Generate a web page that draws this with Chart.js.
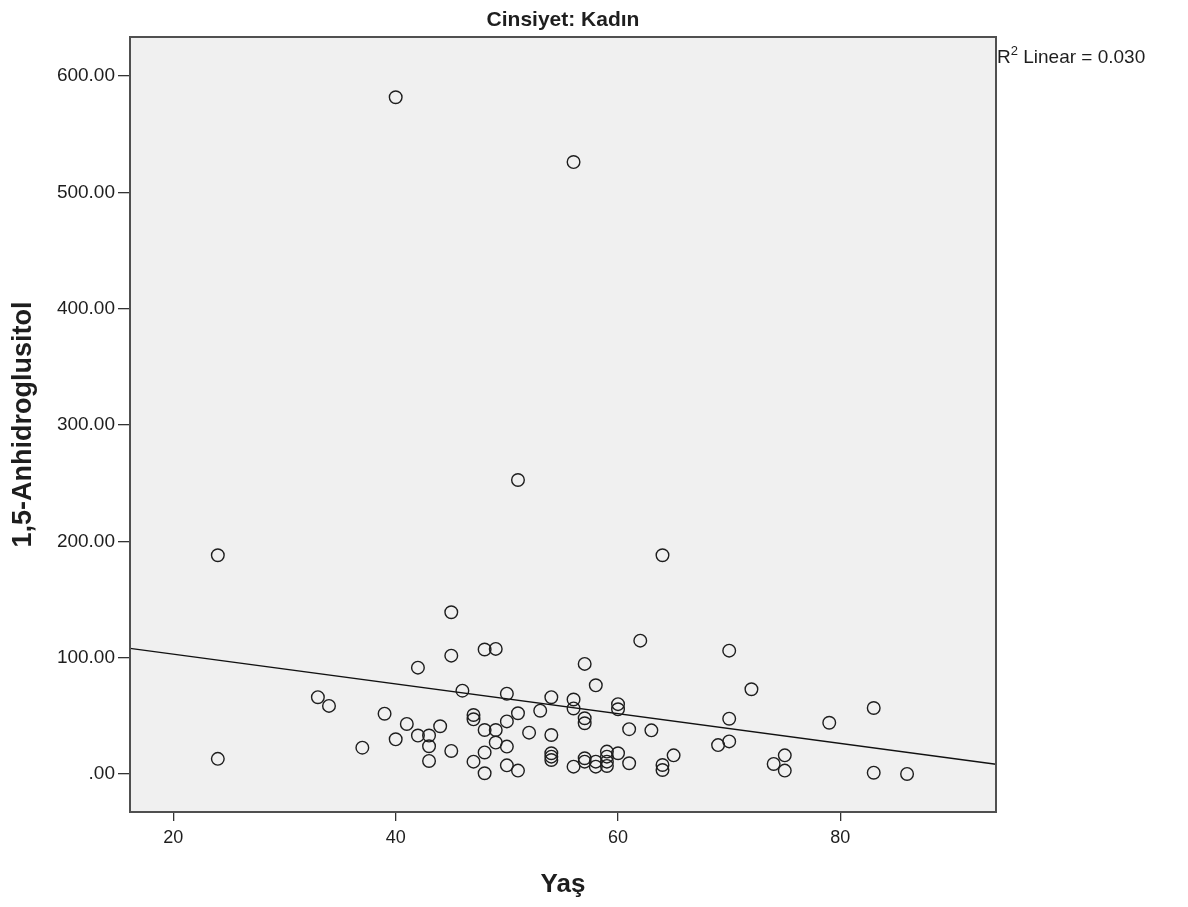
<!DOCTYPE html>
<html><head><meta charset="utf-8">
<script src="https://cdn.jsdelivr.net/npm/chart.js@4/dist/chart.umd.min.js"></script>
<style>html,body{margin:0;padding:0;background:#fff;}canvas{display:block;}</style>
</head><body>
<canvas id="c" width="1188" height="907"></canvas>
<script>
const chartTitle = 'Cinsiyet: Kadın';
const xAxisTitle = 'Yaş';
const yAxisTitle = '1,5-Anhidroglusitol';
const fitText = ['R', '2', ' Linear = 0.030'];

const ages = [40,56,51,24,64,45,62,42,45,48,49,70,57,58,72,46,33,34,50,54,
  56,60,60,39,47,47,51,53,56,57,57,70,79,83,41,44,50,42,43,48,
  49,52,54,61,63,40,49,37,43,45,48,50,69,70,24,43,47,54,54,54,
  57,57,58,58,59,59,59,59,60,61,56,50,51,48,64,64,65,74,75,75,83,86];
const values = [581.7,526,252.7,188,188,139,114.6,91.4,101.7,107,107.5,106,94.6,76.2,72.8,71.6,66,58.5,69,66,
  64,60,55.6,51.8,50.7,47,52.2,54.4,56.3,47.9,43.6,47.5,44,56.7,43,41,45.2,33,33,37.8,
  37.8,35.5,33.5,38.5,37.5,29.8,27,22.6,23.8,19.8,18.5,23.5,24.8,28,13,11.2,10.6,17.8,14.9,12,
  13.5,10.6,10.6,6.3,19.2,14.9,10.6,6.9,17.8,9.2,6.3,7.4,2.9,0.6,7.7,3.4,16,8.6,16,2.9,1.1,0];

const fitX = [16.1, 94.0];
const fitY = [108.0, 8.3];

const xRange = [16.1, 94.0];
const yRange = [-32.7, 633.5];
const xTickValues = [20, 40, 60, 80];
const xTickLabels = ['20', '40', '60', '80'];
const yTickValues = [0, 100, 200, 300, 400, 500, 600];
const yTickLabels = ['.00', '100.00', '200.00', '300.00', '400.00', '500.00', '600.00'];

const FONT = "'Liberation Sans', Arial, sans-serif";
const INK = '#1e1e1e';

const framePlugin = {
  id: 'frame',
  beforeDraw(chart) {
    const {ctx, chartArea: a} = chart;
    ctx.save();
    ctx.fillStyle = '#f0f0f0';
    ctx.fillRect(a.left, a.top, a.right - a.left, a.bottom - a.top);
    ctx.restore();
  },
  afterDraw(chart) {
    const {ctx, chartArea: a} = chart;
    ctx.save();
    ctx.strokeStyle = '#505050';
    ctx.lineWidth = 2;
    ctx.strokeRect(a.left, a.top, a.right - a.left, a.bottom - a.top);
    ctx.fillStyle = INK;
    ctx.font = "bold 21px " + FONT;
    ctx.textAlign = 'center';
    ctx.textBaseline = 'alphabetic';
    ctx.fillText(chartTitle, (a.left + a.right) / 2, a.top - 11);
    ctx.textAlign = 'left';
    let x = a.right + 1;
    const y = a.top + 26;
    ctx.font = "19px " + FONT;
    ctx.fillText(fitText[0], x, y);
    x += ctx.measureText(fitText[0]).width;
    ctx.font = "13px " + FONT;
    ctx.fillText(fitText[1], x, y - 8);
    x += ctx.measureText(fitText[1]).width;
    ctx.font = "19px " + FONT;
    ctx.fillText(fitText[2], x, y);
    ctx.restore();
  }
};

new Chart(document.getElementById('c'), {
  type: 'scatter',
  data: {
    datasets: [
      {
        label: 'points',
        data: ages.map((a, i) => ({x: a, y: values[i]})),
        pointStyle: 'circle',
        pointRadius: 6.3,
        pointHoverRadius: 6.3,
        pointBorderWidth: 1.4,
        borderColor: INK,
        pointBorderColor: INK,
        backgroundColor: 'rgba(0,0,0,0)',
        pointBackgroundColor: 'rgba(0,0,0,0)',
        showLine: false
      },
      {
        label: 'fit',
        data: fitX.map((v, i) => ({x: v, y: fitY[i]})),
        showLine: true,
        pointRadius: 0,
        borderColor: '#111',
        borderWidth: 1.4,
        fill: false
      }
    ]
  },
  options: {
    responsive: false,
    animation: false,
    devicePixelRatio: 1,
    layout: {padding: {top: 37, right: 192, left: 0, bottom: 0}},
    plugins: {legend: {display: false}, tooltip: {enabled: false}, title: {display: false}},
    scales: {
      x: {
        type: 'linear',
        min: xRange[0], max: xRange[1],
        afterBuildTicks: s => { s.ticks = xTickValues.map(v => ({value: v})); },
        afterFit: s => { s.height = 95; },
        ticks: {
          callback: (v, i) => xTickLabels[i],
          color: INK, padding: 6,
          font: {family: FONT, size: 18},
          maxRotation: 0, autoSkip: false
        },
        grid: {display: true, drawOnChartArea: false, drawTicks: true, tickLength: 9, color: '#333', lineWidth: 1.3},
        border: {display: false},
        title: {display: true, text: xAxisTitle, color: INK, font: {family: FONT, size: 26, weight: 'bold'}, padding: {top: 0, bottom: 7}}
      },
      y: {
        type: 'linear',
        min: yRange[0], max: yRange[1],
        afterBuildTicks: s => { s.ticks = yTickValues.map(v => ({value: v})); },
        afterFit: s => { s.width = 130; },
        ticks: {
          callback: (v, i) => yTickLabels[i],
          color: INK, padding: 3,
          font: {family: FONT, size: 19}
        },
        grid: {display: true, drawOnChartArea: false, drawTicks: true, tickLength: 12, color: '#333', lineWidth: 1.3},
        border: {display: false},
        title: {display: true, text: yAxisTitle, color: INK, font: {family: FONT, size: 27, weight: 'bold'}, padding: {top: 7, bottom: 0}}
      }
    }
  },
  plugins: [framePlugin]
});
</script>
</body></html>
